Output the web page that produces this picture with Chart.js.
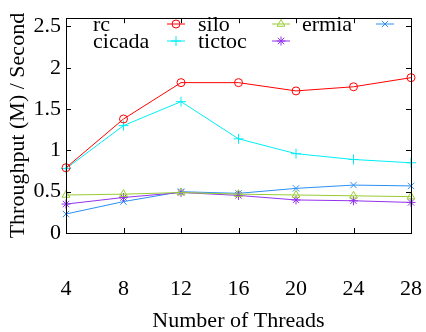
<!DOCTYPE html>
<html>
<head>
<meta charset="utf-8">
<script src="https://cdn.jsdelivr.net/npm/chart.js@4"></script>
<style>
  html, body { margin: 0; padding: 0; background: #fff; }
  #wrap { width: 426px; height: 332px; }
</style>
</head>
<body>
<div id="wrap"><canvas id="chart" width="426" height="332"></canvas></div>
<script>
// thread counts on the x axis
const threads = [4, 8, 12, 16, 20, 24, 28];

// throughput (M/s) per protocol
const rc     = [0.79, 1.38, 1.82, 1.82, 1.72, 1.77, 1.88];
const cicada = [0.78, 1.30, 1.59, 1.14, 0.96, 0.89, 0.85];
const silo   = [0.46, 0.47, 0.49, 0.47, 0.46, 0.45, 0.44];
const tictoc = [0.35, 0.43, 0.49, 0.455, 0.40, 0.39, 0.37];
const ermia  = [0.23, 0.38, 0.50, 0.48, 0.54, 0.58, 0.57];

const yTicks = [0, 0.5, 1, 1.5, 2, 2.5];

const FONT = "Liberation Serif";
const FSIZE = 22;

const series = [
  { label: "rc",     data: rc,     color: "#ff0000", style: "circle",   r: 4 },
  { label: "cicada", data: cicada, color: "#00eef5", style: "cross",    r: 5 },
  { label: "silo",   data: silo,   color: "#99cc33", style: "triangle", r: 4.5 },
  { label: "tictoc", data: tictoc, color: "#9433ee", style: "star",     r: 4.5 },
  { label: "ermia",  data: ermia,  color: "#2b8ff5", style: "crossRot", r: 4.5 },
];

// box + inward ticks on all four sides, gnuplot style
const frame = {
  id: "frame",
  afterDatasetsDraw(chart) {
    const { ctx, chartArea: a, scales } = chart;
    ctx.save();
    ctx.strokeStyle = "#000";
    ctx.lineWidth = 1;
    ctx.strokeRect(Math.round(a.left) + 0.5, Math.round(a.top) + 0.5,
      Math.round(a.right - a.left), Math.round(a.bottom - a.top));
    ctx.beginPath();
    threads.forEach(t => {
      const x = Math.round(scales.x.getPixelForValue(t)) + 0.5;
      ctx.moveTo(x, a.bottom); ctx.lineTo(x, a.bottom - 5);
      ctx.moveTo(x, a.top); ctx.lineTo(x, a.top + 5);
    });
    yTicks.forEach(v => {
      const y = Math.round(scales.y.getPixelForValue(v)) + 0.5;
      ctx.moveTo(a.left, y); ctx.lineTo(a.left + 5, y);
      ctx.moveTo(a.right, y); ctx.lineTo(a.right - 5, y);
    });
    ctx.stroke();
    ctx.restore();
  }
};

// legend inside the plot: label then line sample, 3 columns by 2 rows
const keyBox = {
  id: "keyBox",
  afterDatasetsDraw(chart) {
    const { ctx } = chart;
    const colText = [93, 198, 302];
    const colSample = [167, 272, 376];
    const rows = [24, 41];
    ctx.save();
    ctx.font = `${FSIZE}px "${FONT}"`;
    ctx.textBaseline = "middle";
    chart.data.datasets.forEach((ds, i) => {
      const c = Math.floor(i / 2), r = i % 2;
      ctx.fillStyle = "#000";
      ctx.textAlign = "left";
      ctx.fillText(ds.label, colText[c], rows[r] + 1);
      const x0 = colSample[c], x1 = x0 + 18, y = rows[r];
      ctx.strokeStyle = ds.borderColor;
      ctx.fillStyle = "rgba(0,0,0,0)";
      ctx.lineWidth = 1;
      ctx.beginPath(); ctx.moveTo(x0, y); ctx.lineTo(x1, y); ctx.stroke();
      Chart.helpers.drawPoint(ctx, {
        pointStyle: ds.pointStyle, radius: ds.pointRadius, rotation: 0, borderWidth: 1
      }, (x0 + x1) / 2, y);
    });
    ctx.restore();
  }
};

new Chart(document.getElementById("chart"), {
  type: "line",
  data: {
    datasets: series.map(s => ({
      label: s.label,
      data: threads.map((t, i) => ({ x: t, y: s.data[i] })),
      borderColor: s.color,
      backgroundColor: "rgba(0,0,0,0)",
      pointBorderColor: s.color,
      pointBackgroundColor: "rgba(0,0,0,0)",
      pointStyle: s.style,
      pointRadius: s.r,
      pointBorderWidth: 1,
      borderWidth: 1,
      tension: 0,
      clip: false
    }))
  },
  options: {
    responsive: false,
    animation: false,
    layout: { padding: { top: 6, right: 15, left: 0, bottom: 0 } },
    plugins: { legend: { display: false }, tooltip: { enabled: false } },
    scales: {
      x: {
        type: "linear",
        min: 4, max: 28,
        afterBuildTicks: s => { s.ticks = threads.map(v => ({ value: v })); },
        afterFit: s => { s.height = 99; s.paddingLeft = 0; s.paddingRight = 0; },
        grid: { display: false, drawTicks: false },
        border: { display: false },
        ticks: { padding: 43, maxRotation: 0, color: "#000", font: { family: FONT, size: FSIZE } },
        title: {
          display: true, text: "Number of Threads", color: "#000",
          font: { family: FONT, size: FSIZE }, padding: { top: 0, bottom: -2 }
        }
      },
      y: {
        min: 0, max: 2.6,
        afterBuildTicks: s => { s.ticks = yTicks.map(v => ({ value: v })); },
        afterFit: s => { s.width = 66; },
        grid: { display: false, drawTicks: false },
        border: { display: false },
        ticks: {
          padding: 5, color: "#000", font: { family: FONT, size: FSIZE },
          callback: v => String(v)
        },
        title: {
          display: true, text: "Throughput (M) / Second", color: "#000",
          font: { family: FONT, size: FSIZE }, padding: { top: 5, bottom: 0 }
        }
      }
    }
  },
  plugins: [frame, keyBox]
});
</script>
</body>
</html>
